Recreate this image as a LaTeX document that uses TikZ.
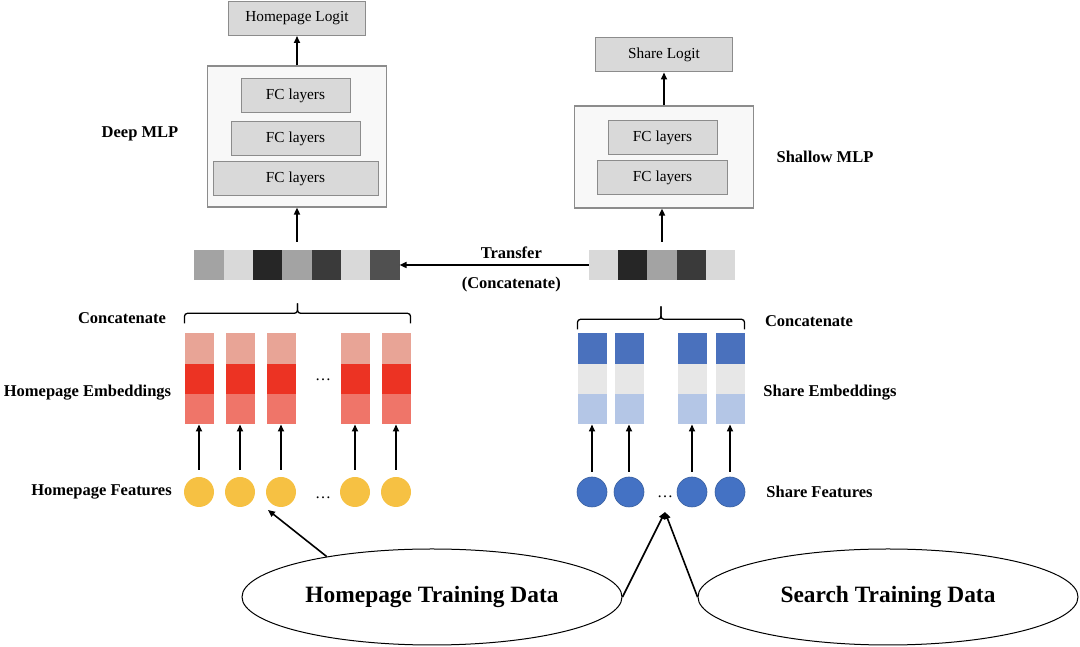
\documentclass[tikz,border=0pt]{standalone}
\usepackage{fontspec}
\setmainfont{Liberation Serif}
\usetikzlibrary{positioning,shapes.geometric,calc,arrows.meta}

\definecolor{boxfill}{HTML}{D9D9D9}
\definecolor{boxline}{HTML}{8C8C8C}
\definecolor{mlpfill}{HTML}{F8F8F8}
\definecolor{cellA}{HTML}{A3A3A3}
\definecolor{cellB}{HTML}{D9D9D9}
\definecolor{cellC}{HTML}{262626}
\definecolor{cellD}{HTML}{3A3A3A}
\definecolor{cellE}{HTML}{505050}
\definecolor{redtop}{HTML}{E8A496}
\definecolor{redmid}{HTML}{EC3323}
\definecolor{redbot}{HTML}{EF7569}
\definecolor{bluetop}{HTML}{4A71BD}
\definecolor{bluemid}{HTML}{E7E7E7}
\definecolor{bluebot}{HTML}{B4C6E6}
\definecolor{featyellow}{HTML}{F6C143}
\definecolor{featblue}{HTML}{4472C4}
\definecolor{featblueline}{HTML}{3A609F}

\begin{document}
\begin{tikzpicture}[x=1pt, y=1pt,
        lbl/.style={font=\fontsize{16.5}{19}\selectfont\bfseries},
        layer/.style={draw=boxline, fill=boxfill, line width=1pt, minimum height=34pt, inner sep=0pt, font=\fontsize{15.3}{18}\selectfont},
        mlp/.style={draw=boxline, fill=mlpfill, line width=1.2pt, inner sep=0pt},
        cell/.style={minimum width=29.3pt, minimum height=30pt, inner sep=0pt, outer sep=0pt},
        emb/.style={minimum width=29pt, minimum height=30.4pt, inner sep=0pt, outer sep=0pt},
        feat/.style={circle, minimum size=30pt, inner sep=0pt},
        arr/.style={-{Triangle[length=7pt, width=6pt]}, line width=1.6pt},
        bracket/.style={line width=1.3pt, rounded corners=3pt},
        data/.style={ellipse, draw, line width=1pt, minimum width=380pt, minimum height=96pt, font=\fontsize{23.4}{27}\selectfont\bfseries},
        dots/.style={font=\fontsize{16}{19}\selectfont}]
    \useasboundingbox (0,0) rectangle (1080,647);

    % homepage tower
    \node[mlp, minimum width=179pt, minimum height=141pt] (deepmlp) at (297,510.5) {};
    \node[layer, minimum width=109pt] (dfc1) at (295.5,551) {FC layers};
    \node[layer, minimum width=129pt, below=8pt of dfc1] (dfc2) {FC layers};
    \node[layer, minimum width=165pt, below=5pt of dfc2] (dfc3) {FC layers};
    \node[layer, minimum width=137pt] (hplogit) at (297,628.5) {Homepage Logit};
    \node[lbl] (deeplbl) at (140,513) {Deep MLP};

    % share tower
    \node[mlp, minimum width=179pt, minimum height=102pt] (shallowmlp) at (664,490) {};
    \node[layer, minimum width=109pt] (sfc1) at (662.5,509.5) {FC layers};
    \node[layer, minimum width=130pt, below=5pt of sfc1] (sfc2) {FC layers};
    \node[layer, minimum width=137pt] (sharelogit) at (664,592) {Share Logit};
    \node[lbl] (shallowlbl) at (825,490) {Shallow MLP};

    % concatenated vectors
    \foreach \c [count=\i] in {cellA,cellB,cellC,cellA,cellD,cellB,cellE}
        \node[cell, fill=\c] (ls\i) at ({179.8+29.3*\i},382) {};
    \foreach \c [count=\i] in {cellB,cellC,cellA,cellD,cellB}
        \node[cell, fill=\c] (rs\i) at ({574.4+29.2*\i},382) {};

    \draw[arr] (deepmlp.north) -- (hplogit.south);
    \draw[arr] (shallowmlp.north) -- (sharelogit.south);
    \draw[arr, shorten <=8pt] (ls4.north) -- (ls4.north |- deepmlp.south);
    \draw[arr, shorten <=8pt] (rs3.north) -- (rs3.north |- shallowmlp.south);
    \draw[arr] (rs1.west) -- (ls7.east)
        node[pos=0.41, above=2pt, lbl] {Transfer}
        node[pos=0.41, below=8pt, lbl] {(Concatenate)};

    % homepage embeddings and features
    \foreach \x [count=\i] in {199,240,281,355,396} {
        \node[emb, fill=redtop] (ht\i) at (\x,298.5) {};
        \node[emb, fill=redmid, below=0pt of ht\i] (hm\i) {};
        \node[emb, fill=redbot, below=0pt of hm\i] (hb\i) {};
        \node[feat, fill=featyellow] (hf\i) at (\x,155) {};
        \draw[arr, shorten <=7pt] (hf\i.north) -- (hb\i.south);
    }
    \node[dots] (hpdots1) at (323,267) {\dots};
    \node[dots] (hpdots2) at (323,149) {\dots};
    \coordinate (hpbl) at ([yshift=10pt]ht1.north west);
    \coordinate (hpbr) at ([yshift=10pt]ht5.north east);
    \coordinate (hptip) at ($(hpbl)!0.5!(hpbr)+(0,20)$);
    \draw[bracket] (hpbl) |- ([yshift=-10pt]hptip) -- (hptip);
    \draw[bracket] (hpbr) |- ([yshift=-10pt]hptip) -- (hptip);
    \node[lbl] (hpconcat) at (122,329) {Concatenate};
    \node[lbl] (hpemb) at (87.5,254) {Homepage Embeddings};
    \node[lbl] (hpfeat) at (101.5,155) {Homepage Features};

    % share embeddings and features
    \foreach \x [count=\i] in {592,629,692,730} {
        \node[emb, fill=bluetop] (st\i) at (\x,298.5) {};
        \node[emb, fill=bluemid, below=0pt of st\i] (sm\i) {};
        \node[emb, fill=bluebot, below=0pt of sm\i] (sb\i) {};
        \node[feat, fill=featblue, draw=featblueline, line width=0.6pt] (sf\i) at (\x,155) {};
        \draw[arr, shorten <=5pt] (sf\i.north) -- (sb\i.south);
    }
    \node[dots] (shdots) at (665,150) {\dots};
    \coordinate (shbl) at ([yshift=4pt]st1.north west);
    \coordinate (shbr) at ([yshift=4pt]st4.north east);
    \coordinate (shtip) at ($(shbl)!0.5!(shbr)+(0,23)$);
    \draw[bracket] (shbl) |- ([yshift=-13pt]shtip) -- (shtip);
    \draw[bracket] (shbr) |- ([yshift=-13pt]shtip) -- (shtip);
    \node[lbl] (shconcat) at (809,326) {Concatenate};
    \node[lbl] (shemb) at (830,254) {Share Embeddings};
    \node[lbl] (shfeat) at (819.5,155) {Share Features};

    % training data
    \node[data] (hometrain) at (432,50) {Homepage Training Data};
    \node[data] (searchtrain) at (888,50) {Search Training Data};
    \coordinate (hpend) at (268,137);
    \coordinate (shend) at (665,135);
    \draw[arr] (hometrain.159) -- (hpend);
    \draw[arr] (hometrain.east) -- (shend);
    \draw[arr] (searchtrain.west) -- (shend);
\end{tikzpicture}
\end{document}
